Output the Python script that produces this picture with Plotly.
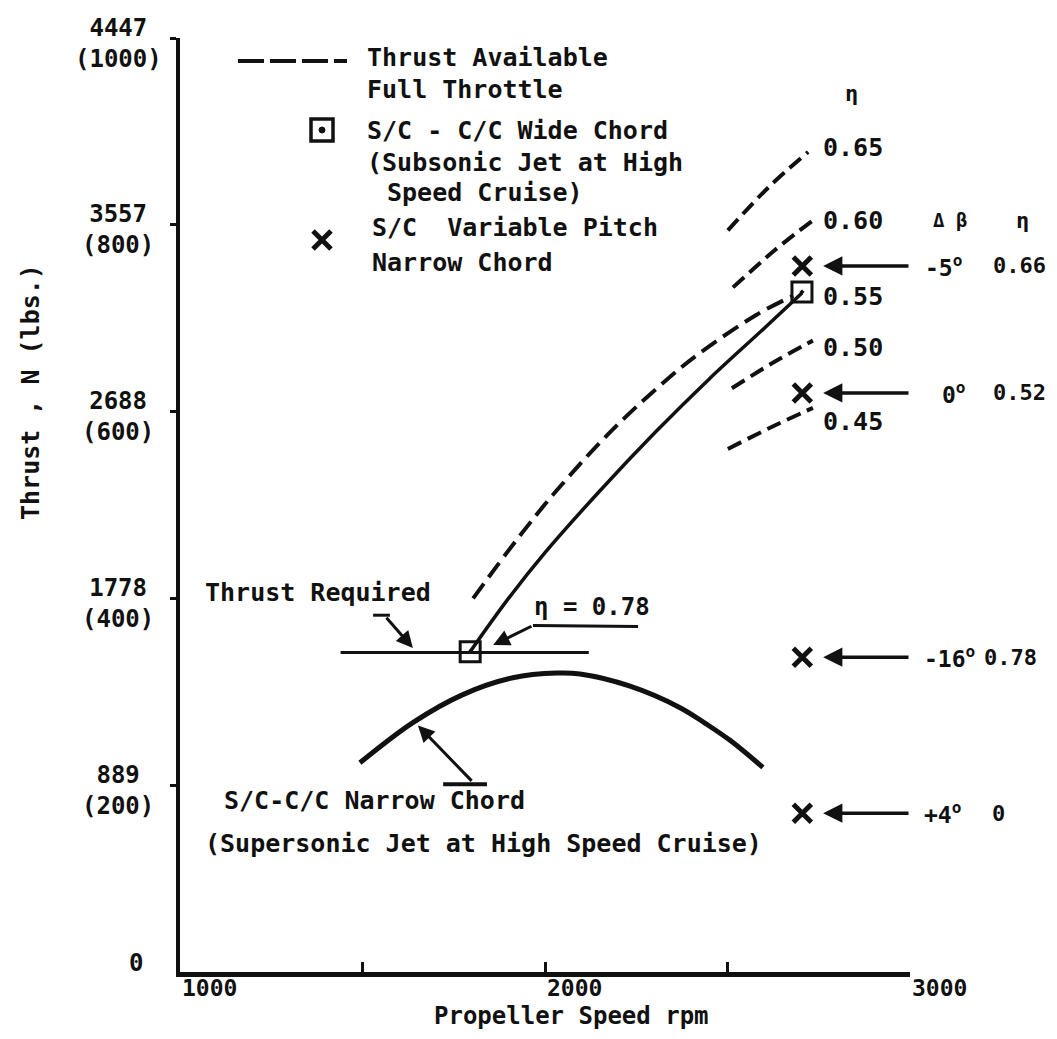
import plotly.graph_objects as go

# ---------------- data ----------------
rpm_required = [1440, 2120]
thrust_required = [342, 342]

rpm_available = [1803, 1923, 2033, 2186, 2342, 2425, 2581, 2680]
thrust_available = [400, 463, 516, 581, 637, 663, 704, 724]

rpm_wide = [1795, 1900, 2000, 2150, 2300, 2450, 2600, 2704]
thrust_wide = [343, 400, 449, 515, 577, 635, 689, 727]

rpm_narrow = [1493, 1638, 1775, 1912, 2033, 2096, 2233, 2370, 2440, 2507, 2597]
thrust_narrow = [224, 267, 297, 315, 320, 319, 306, 283, 266, 248, 219]

wide_pts_rpm = [1795, 2704]
wide_pts_thrust = [343, 728]

vp_rpm = [2705, 2705, 2705, 2705]
vp_thrust = [756, 620, 337, 170]
vp_pitch = ["-5", "0", "-16", "+4"]
vp_eta = ["0.66", "0.52", "0.78", "0"]

eta65_rpm = [2501, 2612, 2721]
eta65_thrust = [794, 840, 878]
eta60_rpm = [2515, 2630, 2745]
eta60_thrust = [733, 773, 808]
eta50_rpm = [2512, 2623, 2734]
eta50_thrust = [625, 652, 676]
eta45_rpm = [2501, 2618, 2734]
eta45_thrust = [560, 583, 604]

eta_labels = ["0.65", "0.60", "0.55", "0.50", "0.45"]
eta_label_thrust = [883, 805, 723, 669, 589]

y_tick_vals = [1000, 800, 600, 400, 200]
y_tick_text = ["4447<br>(1000)", "3557<br>(800)", "2688<br>(600)", "1778<br>(400)", "889<br>(200)"]
x_tick_vals = [1000, 2000, 3000]
x_tick_text = ["1000", "2000", "3000"]

# ---------------- style ----------------
FONT = "DejaVu Sans Mono"
INK = "#111111"
FS = 25
X0, X1 = 1000, 3000

# plot area in page pixels: x 180..910, y 38..972
def px(xp):
    return (xp - 180) / 730.0

def py(yp):
    return (972 - yp) / 934.0

def rx(rpm):
    # rpm position expressed as a fraction of the x axis (for labels in the right margin)
    return (rpm - X0) / (X1 - X0)

fig = go.Figure()

line_kw = dict(mode="lines", hoverinfo="skip", showlegend=False)

fig.add_trace(go.Scatter(x=rpm_required, y=thrust_required,
                         line=dict(color=INK, width=3), **line_kw))
fig.add_trace(go.Scatter(x=rpm_available, y=thrust_available,
                         line=dict(color=INK, width=4, dash="18px,8px", shape="spline", smoothing=1),
                         **line_kw))
fig.add_trace(go.Scatter(x=rpm_wide, y=thrust_wide,
                         line=dict(color=INK, width=3.5, shape="spline", smoothing=1), **line_kw))
fig.add_trace(go.Scatter(x=rpm_narrow, y=thrust_narrow,
                         line=dict(color=INK, width=5, shape="spline", smoothing=1), **line_kw))
for xs, ys in [(eta65_rpm, eta65_thrust), (eta60_rpm, eta60_thrust),
               (eta50_rpm, eta50_thrust), (eta45_rpm, eta45_thrust)]:
    fig.add_trace(go.Scatter(x=xs, y=ys,
                             line=dict(color=INK, width=4, dash="15px,7px", shape="spline"), **line_kw))

fig.add_trace(go.Scatter(x=wide_pts_rpm, y=wide_pts_thrust, mode="markers", showlegend=False,
                         marker=dict(symbol="square-open-dot", size=20, color=INK,
                                     line=dict(color=INK, width=3))))
fig.add_trace(go.Scatter(x=vp_rpm, y=vp_thrust, mode="markers", showlegend=False,
                         marker=dict(symbol="x-thin", size=18, color=INK,
                                     line=dict(color=INK, width=5))))

ann = []

def text(x, y, s, size=FS, xref="x", yref="y", xanchor="left", yanchor="middle", **kw):
    d = dict(x=x, y=y, text=s, xref=xref, yref=yref, showarrow=False,
             xanchor=xanchor, yanchor=yanchor,
             font=dict(family=FONT, size=size, color=INK, weight="bold"))
    d.update(kw)
    ann.append(d)

def arrow(x, y, ax, ay, width=3.5):
    ann.append(dict(x=x, y=y, ax=ax, ay=ay, xref="x", yref="y", axref="x", ayref="y",
                    text="", showarrow=True, arrowhead=2, arrowsize=1.1,
                    arrowwidth=width, arrowcolor=INK, standoff=0, startstandoff=0))

# y tick labels
for v, t in zip(y_tick_vals, y_tick_text):
    text(px(118), v, t, size=24, xref="paper", xanchor="center", yshift=-5, align="center")
text(px(136), 0, "0", size=24, xref="paper", xanchor="center", yshift=9)
# x tick labels
for v, t in zip(x_tick_vals, x_tick_text):
    text(v, py(988), t, size=23, yref="paper")
# axis titles
text(px(571), py(1016), "Propeller Speed rpm", size=24, xref="paper", yref="paper", xanchor="center")
text(px(30), py(392), "Thrust , N (lbs.)", xref="paper", yref="paper", xanchor="center",
     textangle=-90)

# legend block
leg = [(365, 57, "Thrust Available"), (365, 90, "Full Throttle"),
       (365, 131, "S/C - C/C Wide Chord"), (365, 162, "(Subsonic Jet at High"),
       (385, 192, "Speed Cruise)"), (370, 228, "S/C\u00a0\u00a0Variable Pitch"),
       (370, 262, "Narrow Chord")]
for xp, yp, s in leg:
    text(px(xp), py(yp), s, xref="paper", yref="paper")

# efficiency labels
text(2841, 941, "η", size=22, xanchor="center")
for lab, yv in zip(eta_labels, eta_label_thrust):
    text(2755, yv, lab)
text(rx(3110), 805, "Δ β", size=19, xref="paper", xanchor="center")
text(rx(3307), 805, "η", size=22, xref="paper", xanchor="center")

# variable pitch labels and arrows
pitch_x = [3036, 3082, 3033, 3033]
eta_x = [3222, 3222, 3198, 3219]
for yv, p, e, pxv, ex in zip(vp_thrust, vp_pitch, vp_eta, pitch_x, eta_x):
    arrow(2762, yv, 3000, yv)
    text(rx(pxv), yv, p + "<sup>o</sup>", size=23, xref="paper")
    text(rx(ex), yv, e, size=22, xref="paper")

# callouts
text(1063, 406, "Thrust Required")
arrow(1638, 347, 1562, 381, width=3)
text(1964, 391, "η = 0.78", size=24)
arrow(1858, 350, 1967, 371, width=3)
text(1115, 184, "S/C-C/C Narrow Chord")
text(1063, 138, "(Supersonic Jet at High Speed Cruise)")
arrow(1652, 264, 1803, 203, width=3)

shapes = [
    dict(type="line", xref="x", yref="y", x0=1529, x1=1575, y0=382, y1=382,
         line=dict(color=INK, width=3)),
    dict(type="line", xref="x", yref="y", x0=1967, x1=2255, y0=371, y1=370,
         line=dict(color=INK, width=3)),
    dict(type="line", xref="x", yref="y", x0=1721, x1=1841, y0=201, y1=201,
         line=dict(color=INK, width=4)),
    # legend glyphs
    dict(type="line", xref="paper", yref="paper", x0=px(238), x1=px(347), y0=py(61), y1=py(61),
         line=dict(color=INK, width=4, dash="26px,6px")),
    dict(type="rect", xref="paper", yref="paper", x0=px(311), x1=px(333), y0=py(141), y1=py(119),
         line=dict(color=INK, width=3.5)),
    dict(type="circle", xref="paper", yref="paper", x0=px(319), x1=px(325), y0=py(133), y1=py(127),
         fillcolor=INK, line=dict(color=INK, width=1)),
    dict(type="line", xref="paper", yref="paper", x0=px(313), x1=px(331), y0=py(231), y1=py(249),
         line=dict(color=INK, width=5)),
    dict(type="line", xref="paper", yref="paper", x0=px(313), x1=px(331), y0=py(249), y1=py(231),
         line=dict(color=INK, width=5)),
]

fig.update_layout(
    width=1041, height=1023,
    margin=dict(l=172, r=139, t=30, b=59, pad=0),
    paper_bgcolor="white", plot_bgcolor="white",
    font=dict(family=FONT, size=FS, color=INK),
    showlegend=False,
    annotations=ann, shapes=shapes,
    xaxis=dict(range=[X0, X1], showgrid=False, zeroline=False, showline=True,
               linecolor=INK, linewidth=5, tickmode="array", tickvals=[1500, 2000, 2500, 3000],
               ticks="inside", ticklen=10, tickwidth=2.5, tickcolor=INK, showticklabels=False),
    yaxis=dict(range=[0, 1000], showgrid=False, zeroline=False, showline=True,
               linecolor=INK, linewidth=4, tickmode="array", tickvals=y_tick_vals,
               ticks="outside", ticklen=6, tickwidth=3, tickcolor=INK, showticklabels=False),
)

fig.write_html("out.html")
